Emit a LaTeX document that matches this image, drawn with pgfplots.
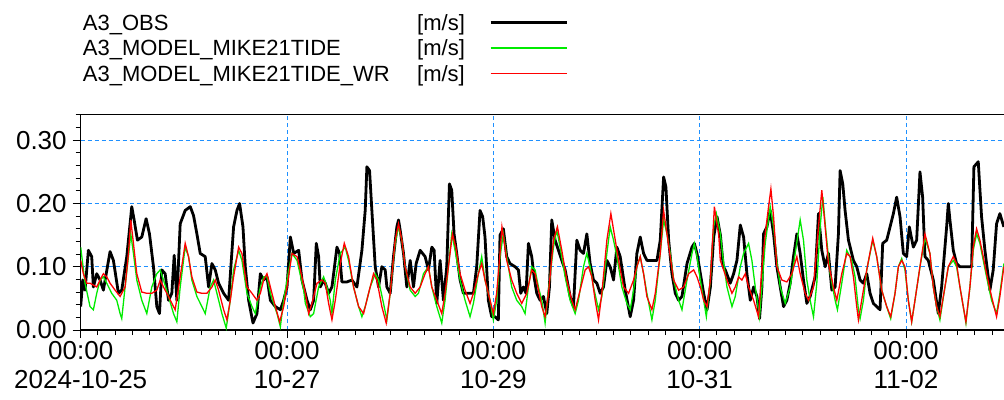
\documentclass[border=0pt]{standalone}
\usepackage{fontspec}
\setmainfont{Liberation Sans}
\usepackage{pgfplots}
\pgfplotsset{compat=1.18}
\definecolor{gridblue}{RGB}{30,144,255}
\definecolor{modgreen}{RGB}{0,235,0}
\definecolor{modred}{RGB}{255,0,0}
\begin{document}
\begin{tikzpicture}
\begin{axis}[
  scale only axis,
  width=923.3pt, height=215.7pt,
  xmin=0, xmax=214.8, ymin=0, ymax=0.341,
  axis x line*=box, axis y line*=left,
  xtick pos=left, ytick pos=left,
  xtick={0,48,96,144,192},
  xticklabels={{00:00\\2024-10-25},{00:00\\10-27},{00:00\\10-29},{00:00\\10-31},{00:00\\11-02}},
  minor xtick={0,4,...,212},
  ytick={0,0.1,0.2,0.3},
  yticklabels={0.00,0.10,0.20,0.30},
  minor ytick={0.02,0.04,0.06,0.08,0.12,0.14,0.16,0.18,0.22,0.24,0.26,0.28,0.32,0.34},
  tick align=outside,
  major tick length=8pt, minor tick length=5pt,
  tick style={black, line width=0.9pt},
  axis line style={black, line width=1.3pt},
  grid=major,
  major grid style={draw=gridblue, line width=1pt, dash pattern=on 4pt off 3pt},
  tick label style={font=\fontsize{26}{29}\selectfont},
  xticklabel style={align=center},
  yticklabel style={xshift=-2.5pt},
  legend plot pos=right,
  legend image code/.code={\draw[#1] (0pt,8pt) -- (76pt,8pt);},
  legend style={at={(0,1)}, anchor=north west, xshift=0pt, yshift=102pt,
    draw=none, fill=none, inner sep=0pt, font=\fontsize{22}{25}\selectfont,
    row sep=4pt, column sep=22.3pt, cells={anchor=base west, inner sep=0pt}},
]
\addplot[draw=black, line width=2.8pt, line join=round] table {
0 0.037
0.47 0.079
1.01 0.063
1.79 0.126
2.56 0.116
2.95 0.068
3.73 0.089
4.51 0.079
5.28 0.063
6.83 0.124
7.61 0.110
8.78 0.058
9.55 0.063
10.72 0.116
11.88 0.195
12.43 0.174
13.20 0.142
14.21 0.147
15.22 0.176
16.00 0.152
16.93 0.100
17.71 0.037
18.33 0.026
18.87 0.095
19.65 0.089
20.43 0.047
21.20 0.058
21.75 0.118
22.37 0.047
23.15 0.168
24.31 0.189
25.48 0.195
26.25 0.181
27.03 0.152
27.81 0.121
28.97 0.116
29.75 0.068
30.53 0.105
31.30 0.095
32.08 0.074
33.25 0.058
34.41 0.047
35.57 0.163
36.35 0.189
36.97 0.200
37.75 0.163
38.29 0.100
39.07 0.047
40.08 0.011
41.01 0.026
41.79 0.089
42.56 0.079
43.34 0.084
44.12 0.047
45.28 0.037
46.45 0.032
47.22 0.047
48.00 0.068
48.78 0.147
49.55 0.121
50.71 0.126
51.48 0.079
52.65 0.047
53.42 0.032
54.19 0.047
54.81 0.137
55.35 0.116
55.74 0.068
56.52 0.079
56.90 0.074
57.68 0.058
58.45 0.068
59.61 0.131
60.23 0.121
60.77 0.076
61.94 0.076
63.10 0.079
64.26 0.068
65.42 0.126
66.19 0.189
66.58 0.258
67.20 0.252
67.74 0.189
68.52 0.100
69.29 0.068
70.06 0.100
70.84 0.095
71.23 0.068
72.00 0.058
72.77 0.116
73.55 0.163
73.94 0.174
74.32 0.158
75.10 0.121
75.87 0.068
76.65 0.110
77.42 0.068
78.04 0.105
78.97 0.126
80.13 0.116
80.90 0.095
81.68 0.131
82.22 0.126
82.84 0.042
83.61 0.110
84.39 0.047
85.16 0.100
85.78 0.231
86.32 0.221
86.86 0.152
87.48 0.121
88.26 0.079
89.03 0.058
90.19 0.058
91.36 0.058
92.13 0.100
92.90 0.189
93.52 0.179
94.06 0.147
94.84 0.047
95.61 0.021
96.39 0.021
97.16 0.016
97.55 0.150
98.33 0.160
99.11 0.116
99.88 0.105
101.05 0.100
101.83 0.095
102.37 0.058
102.99 0.068
103.61 0.058
104.16 0.137
104.93 0.116
105.48 0.084
106.10 0.058
106.87 0.047
107.65 0.053
108.43 0.026
109.05 0.068
109.59 0.174
110.37 0.142
111.15 0.126
111.92 0.110
112.70 0.095
113.86 0.053
114.64 0.037
115.42 0.142
116.19 0.126
116.97 0.121
117.75 0.152
118.52 0.105
119.30 0.079
120.08 0.074
120.85 0.058
121.63 0.068
122.41 0.110
123.18 0.100
123.96 0.079
124.74 0.131
125.51 0.116
126.68 0.063
127.84 0.021
128.62 0.047
129.39 0.121
130.17 0.147
130.95 0.121
131.72 0.110
132.89 0.110
134.06 0.110
134.83 0.142
135.61 0.242
136.15 0.226
136.78 0.142
137.55 0.089
138.33 0.058
139.11 0.047
139.88 0.053
141.05 0.105
142.21 0.131
142.76 0.137
143.38 0.121
144.16 0.089
144.93 0.058
145.71 0.032
146.49 0.068
147.26 0.147
148.04 0.179
148.82 0.150
149.50 0.100
149.96 0.095
151.12 0.074
151.90 0.089
152.67 0.110
153.45 0.166
154.22 0.147
154.99 0.089
155.77 0.047
156.54 0.068
157.32 0.053
157.93 0.018
158.48 0.068
158.86 0.152
159.64 0.163
160.41 0.189
161.19 0.152
161.96 0.100
162.74 0.068
163.51 0.037
164.28 0.047
165.06 0.074
165.83 0.116
166.61 0.152
167.38 0.121
168.15 0.079
168.93 0.042
169.70 0.053
170.86 0.084
171.64 0.184
172.41 0.126
173.19 0.100
173.96 0.121
174.74 0.063
175.51 0.068
176.28 0.152
176.67 0.252
177.29 0.231
177.83 0.189
178.61 0.142
179.77 0.110
180.54 0.100
181.32 0.079
182.09 0.074
182.87 0.089
183.64 0.058
184.41 0.042
185.96 0.032
186.58 0.137
187.51 0.142
188.29 0.163
189.06 0.184
189.83 0.210
190.61 0.179
191.38 0.121
192.15 0.116
192.77 0.163
193.70 0.131
194.48 0.142
195.25 0.250
195.87 0.210
196.41 0.116
197.19 0.110
198.35 0.079
199.51 0.026
200.29 0.068
201.45 0.163
201.84 0.200
202.22 0.174
203.00 0.126
203.77 0.105
204.55 0.100
206.10 0.100
207.26 0.100
207.80 0.258
208.81 0.266
209.58 0.179
210.36 0.126
211.52 0.063
212.29 0.095
213.07 0.168
213.84 0.184
214.77 0.163
};
\addlegendentry{\makebox[334.3pt][l]{A3\_OBS}[m/s]}
\addplot[draw=modgreen, line width=1.3pt] table {
0 0.131
1.01 0.074
2.17 0.037
2.95 0.032
3.73 0.058
4.51 0.079
5.28 0.084
6.06 0.074
7.22 0.058
8.39 0.047
9.17 0.026
9.55 0.018
10.33 0.068
11.11 0.116
11.65 0.152
12.27 0.121
13.05 0.079
14.21 0.047
15.38 0.026
16.54 0.068
17.71 0.089
18.49 0.095
19.26 0.079
20.43 0.053
21.59 0.026
22.37 0.013
23.15 0.068
24.31 0.131
25.09 0.116
25.86 0.079
27.03 0.053
28.19 0.037
28.97 0.026
30.14 0.068
30.91 0.079
31.69 0.058
32.85 0.026
33.86 0.003
34.80 0.047
35.57 0.095
36.74 0.126
37.51 0.110
38.68 0.058
39.85 0.037
40.62 0.026
41.79 0.068
42.56 0.084
43.34 0.084
44.12 0.058
45.67 0.026
46.45 0.005
47.22 0.047
48.39 0.095
49.16 0.121
50.33 0.110
51.88 0.063
52.26 0.042
53.42 0.021
54.19 0.026
55.35 0.068
56.52 0.084
57.29 0.068
58.06 0.047
58.45 0.026
59.23 0.079
60.39 0.121
61.55 0.131
62.32 0.110
63.48 0.068
64.65 0.037
65.42 0.021
66.19 0.037
67.35 0.068
68.52 0.089
69.29 0.079
70.45 0.042
71.23 0.016
72.00 0.058
73.16 0.137
73.94 0.163
74.71 0.142
75.48 0.100
76.65 0.063
77.81 0.053
78.58 0.058
79.74 0.089
80.90 0.100
81.68 0.068
82.84 0.037
84.00 0.011
84.77 0.047
85.55 0.100
86.32 0.152
87.10 0.126
88.26 0.079
89.42 0.047
90.58 0.021
91.36 0.042
92.52 0.089
93.29 0.116
94.06 0.079
95.23 0.047
96.00 0.016
96.77 0.047
97.55 0.116
98.32 0.152
99.11 0.116
100.27 0.068
101.44 0.047
102.60 0.037
103.38 0.026
104.16 0.068
104.93 0.100
105.71 0.095
106.49 0.068
107.26 0.047
108.04 0.011
108.82 0.063
109.98 0.131
110.76 0.158
111.53 0.131
112.70 0.084
113.86 0.047
115.03 0.026
115.81 0.047
116.97 0.100
117.75 0.121
118.52 0.100
119.30 0.068
120.47 0.032
121.24 0.053
122.41 0.121
123.18 0.163
123.96 0.142
124.74 0.116
125.90 0.068
127.07 0.042
127.84 0.032
128.62 0.063
129.39 0.100
130.17 0.116
130.95 0.089
131.72 0.058
132.89 0.016
133.67 0.047
134.83 0.121
135.61 0.174
136.39 0.152
137.16 0.121
137.94 0.079
139.11 0.047
139.88 0.032
141.05 0.079
142.21 0.121
142.76 0.137
143.38 0.116
144.16 0.079
144.93 0.047
145.55 0.021
146.49 0.079
147.26 0.163
147.88 0.184
148.82 0.152
149.50 0.110
150.35 0.068
151.51 0.037
152.28 0.053
153.45 0.100
154.22 0.121
155.38 0.137
156.15 0.110
156.93 0.068
157.93 0.021
158.48 0.068
159.25 0.137
160.41 0.195
161.19 0.163
161.96 0.110
162.74 0.068
163.90 0.042
165.06 0.068
166.22 0.121
167.38 0.174
168.15 0.142
168.93 0.079
169.70 0.047
170.48 0.021
171.25 0.074
172.03 0.163
172.65 0.210
173.42 0.152
174.35 0.089
175.51 0.047
176.05 0.032
177.06 0.074
178.22 0.126
179.38 0.110
180.15 0.084
180.93 0.032
181.32 0.018
182.09 0.047
182.87 0.095
184.26 0.142
185.19 0.116
186.35 0.063
187.51 0.037
188.44 0.018
189.45 0.058
190.22 0.100
191.00 0.113
191.77 0.095
192.54 0.047
193.32 0.013
194.09 0.047
195.25 0.100
196.41 0.145
197.57 0.121
198.35 0.068
199.12 0.037
199.89 0.016
201.06 0.068
201.84 0.100
203.00 0.110
203.77 0.100
204.55 0.068
205.32 0.037
205.94 0.011
206.87 0.068
207.64 0.126
208.42 0.152
209.19 0.137
209.97 0.110
210.74 0.084
211.90 0.047
213.07 0.026
213.84 0.058
214.77 0.105
};
\addlegendentry{\makebox[334.3pt][l]{A3\_MODEL\_MIKE21TIDE}[m/s]}
\addplot[draw=modred, line width=1.3pt] table {
0 0.110
0.62 0.089
1.40 0.074
2.17 0.074
2.95 0.071
3.73 0.068
4.51 0.079
5.28 0.089
6.06 0.084
6.83 0.074
8.00 0.063
9.17 0.053
10.33 0.068
11.11 0.121
11.65 0.174
12.27 0.137
13.05 0.089
14.21 0.060
15.38 0.058
16.54 0.058
17.71 0.063
18.49 0.079
19.26 0.068
20.43 0.053
21.59 0.037
21.98 0.032
23.15 0.084
24.31 0.137
25.09 0.116
25.86 0.084
27.03 0.060
28.19 0.058
29.36 0.058
30.53 0.068
31.30 0.079
32.08 0.063
33.25 0.032
34.02 0.016
34.80 0.047
35.57 0.084
36.74 0.131
37.51 0.121
38.68 0.068
39.85 0.058
41.01 0.047
41.79 0.058
42.56 0.079
43.34 0.089
44.12 0.068
45.28 0.037
46.29 0.013
47.22 0.037
48.00 0.068
49.16 0.121
50.33 0.116
51.10 0.095
52.27 0.058
53.03 0.026
53.81 0.042
54.97 0.074
56.13 0.079
56.90 0.074
57.68 0.042
58.45 0.016
59.23 0.047
60.39 0.105
61.32 0.137
62.32 0.116
63.48 0.068
64.65 0.037
65.81 0.026
66.97 0.058
68.13 0.089
68.90 0.079
70.06 0.037
71.07 0.011
72.00 0.058
73.16 0.142
73.94 0.168
74.71 0.142
75.48 0.100
76.65 0.068
77.81 0.058
78.97 0.068
80.13 0.089
80.90 0.100
81.68 0.068
82.84 0.047
84.00 0.026
84.77 0.058
85.55 0.100
86.48 0.152
87.25 0.131
88.26 0.089
89.42 0.063
90.58 0.042
91.36 0.058
92.52 0.089
93.29 0.105
94.06 0.079
95.23 0.047
96.00 0.026
96.77 0.058
97.55 0.121
98.00 0.163
98.50 0.142
99.11 0.110
100.27 0.079
101.44 0.058
102.60 0.042
103.77 0.058
104.93 0.095
105.71 0.089
106.49 0.063
107.26 0.037
108.04 0.021
108.82 0.058
109.98 0.142
110.91 0.163
111.92 0.126
113.09 0.079
114.25 0.047
115.03 0.032
116.19 0.063
117.36 0.095
118.13 0.100
118.91 0.084
119.69 0.047
120.47 0.016
121.24 0.058
122.41 0.142
123.34 0.184
124.12 0.152
125.13 0.110
126.29 0.068
127.46 0.058
128.62 0.079
129.39 0.100
130.17 0.116
130.95 0.089
131.72 0.053
132.89 0.032
133.67 0.058
134.83 0.121
135.61 0.189
136.39 0.152
137.16 0.116
137.94 0.079
139.11 0.063
140.27 0.068
141.44 0.089
142.60 0.095
143.38 0.084
144.16 0.068
144.93 0.047
145.71 0.037
146.49 0.079
147.42 0.195
147.87 0.174
148.43 0.150
148.80 0.110
149.57 0.095
150.35 0.079
151.51 0.058
152.28 0.068
153.06 0.084
153.83 0.079
154.61 0.089
155.38 0.068
156.54 0.047
157.70 0.021
158.48 0.100
159.25 0.152
160.03 0.195
160.57 0.223
161.19 0.179
161.96 0.100
163.12 0.079
164.28 0.076
165.44 0.089
166.61 0.116
167.38 0.089
168.54 0.058
169.32 0.047
170.48 0.068
171.64 0.163
172.41 0.221
173.19 0.163
173.96 0.105
175.12 0.068
175.90 0.047
177.06 0.089
178.22 0.121
179.00 0.116
179.77 0.084
180.54 0.037
180.93 0.016
181.70 0.047
182.87 0.095
184.26 0.145
185.19 0.116
186.35 0.063
187.51 0.037
188.44 0.021
189.45 0.058
190.22 0.100
191.00 0.110
191.77 0.100
192.54 0.047
193.32 0.013
194.09 0.047
195.25 0.100
196.41 0.152
197.57 0.121
198.35 0.068
199.12 0.037
199.89 0.021
201.06 0.068
201.84 0.100
203.00 0.116
203.77 0.105
204.55 0.068
205.32 0.037
205.94 0.013
206.87 0.068
207.64 0.131
208.42 0.160
209.19 0.142
209.97 0.116
210.74 0.089
211.90 0.053
213.07 0.021
213.84 0.053
214.77 0.100
};
\addlegendentry{\makebox[334.3pt][l]{A3\_MODEL\_MIKE21TIDE\_WR}[m/s]}
\end{axis}
\pgfresetboundingbox
\path[use as bounding box] (-80.7pt,-69pt) rectangle (923.3pt,330pt);
\end{tikzpicture}
\end{document}
